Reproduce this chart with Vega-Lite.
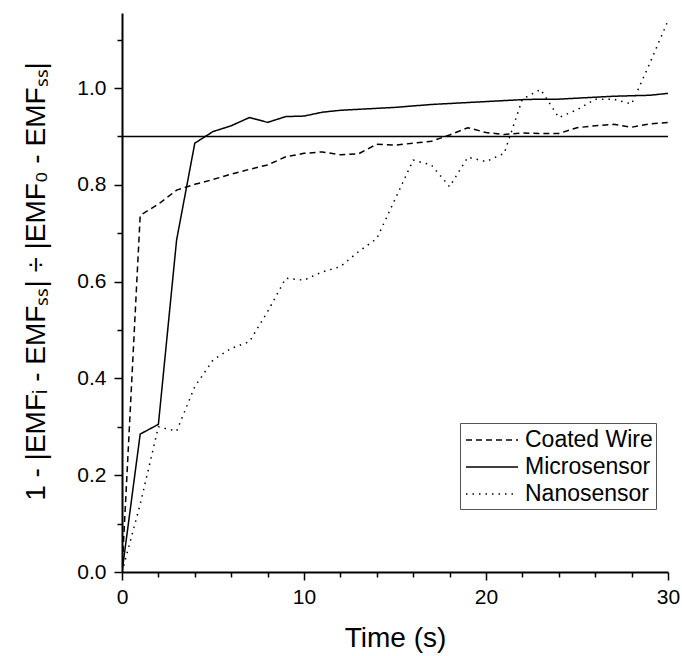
{
  "$schema": "https://vega.github.io/schema/vega-lite/v6.json",
  "width": 546,
  "height": 559,
  "autosize": {"type": "none"},
  "padding": {"left": 122, "top": 13, "right": 14, "bottom": 84},
  "config": {
    "view": {"stroke": null},
    "font": "Liberation Sans",
    "axis": {
      "domainColor": "#000", "domainWidth": 2, "tickColor": "#000", "tickWidth": 1.5,
      "labelColor": "#000", "titleColor": "#000", "labelFont": "Liberation Sans", "titleFont": "Liberation Sans",
      "labelFontSize": 21, "titleFontSize": 28, "titleFontWeight": "normal", "grid": false
    }
  },
  "datasets": {
    "series": [
      {"t": 0, "v": 0, "s": "Coated Wire"},
      {"t": 1, "v": 0.737, "s": "Coated Wire"},
      {"t": 2, "v": 0.76, "s": "Coated Wire"},
      {"t": 3, "v": 0.789, "s": "Coated Wire"},
      {"t": 4, "v": 0.801, "s": "Coated Wire"},
      {"t": 5, "v": 0.811, "s": "Coated Wire"},
      {"t": 6, "v": 0.822, "s": "Coated Wire"},
      {"t": 7, "v": 0.832, "s": "Coated Wire"},
      {"t": 8, "v": 0.841, "s": "Coated Wire"},
      {"t": 9, "v": 0.858, "s": "Coated Wire"},
      {"t": 10, "v": 0.865, "s": "Coated Wire"},
      {"t": 11, "v": 0.868, "s": "Coated Wire"},
      {"t": 12, "v": 0.862, "s": "Coated Wire"},
      {"t": 13, "v": 0.864, "s": "Coated Wire"},
      {"t": 14, "v": 0.884, "s": "Coated Wire"},
      {"t": 15, "v": 0.882, "s": "Coated Wire"},
      {"t": 16, "v": 0.886, "s": "Coated Wire"},
      {"t": 17, "v": 0.89, "s": "Coated Wire"},
      {"t": 18, "v": 0.903, "s": "Coated Wire"},
      {"t": 19, "v": 0.918, "s": "Coated Wire"},
      {"t": 20, "v": 0.908, "s": "Coated Wire"},
      {"t": 21, "v": 0.904, "s": "Coated Wire"},
      {"t": 22, "v": 0.907, "s": "Coated Wire"},
      {"t": 23, "v": 0.906, "s": "Coated Wire"},
      {"t": 24, "v": 0.906, "s": "Coated Wire"},
      {"t": 25, "v": 0.918, "s": "Coated Wire"},
      {"t": 26, "v": 0.922, "s": "Coated Wire"},
      {"t": 27, "v": 0.925, "s": "Coated Wire"},
      {"t": 28, "v": 0.919, "s": "Coated Wire"},
      {"t": 29, "v": 0.926, "s": "Coated Wire"},
      {"t": 30, "v": 0.929, "s": "Coated Wire"},
      {"t": 0, "v": 0, "s": "Microsensor"},
      {"t": 1, "v": 0.285, "s": "Microsensor"},
      {"t": 2, "v": 0.305, "s": "Microsensor"},
      {"t": 3, "v": 0.686, "s": "Microsensor"},
      {"t": 4, "v": 0.886, "s": "Microsensor"},
      {"t": 5, "v": 0.91, "s": "Microsensor"},
      {"t": 6, "v": 0.922, "s": "Microsensor"},
      {"t": 7, "v": 0.939, "s": "Microsensor"},
      {"t": 8, "v": 0.929, "s": "Microsensor"},
      {"t": 9, "v": 0.941, "s": "Microsensor"},
      {"t": 10, "v": 0.942, "s": "Microsensor"},
      {"t": 11, "v": 0.95, "s": "Microsensor"},
      {"t": 12, "v": 0.954, "s": "Microsensor"},
      {"t": 13, "v": 0.956, "s": "Microsensor"},
      {"t": 14, "v": 0.958, "s": "Microsensor"},
      {"t": 15, "v": 0.96, "s": "Microsensor"},
      {"t": 16, "v": 0.963, "s": "Microsensor"},
      {"t": 17, "v": 0.966, "s": "Microsensor"},
      {"t": 18, "v": 0.968, "s": "Microsensor"},
      {"t": 19, "v": 0.97, "s": "Microsensor"},
      {"t": 20, "v": 0.972, "s": "Microsensor"},
      {"t": 21, "v": 0.974, "s": "Microsensor"},
      {"t": 22, "v": 0.976, "s": "Microsensor"},
      {"t": 23, "v": 0.977, "s": "Microsensor"},
      {"t": 24, "v": 0.977, "s": "Microsensor"},
      {"t": 25, "v": 0.979, "s": "Microsensor"},
      {"t": 26, "v": 0.981, "s": "Microsensor"},
      {"t": 27, "v": 0.983, "s": "Microsensor"},
      {"t": 28, "v": 0.984, "s": "Microsensor"},
      {"t": 29, "v": 0.985, "s": "Microsensor"},
      {"t": 30, "v": 0.989, "s": "Microsensor"},
      {"t": 0, "v": 0, "s": "Nanosensor"},
      {"t": 1, "v": 0.14, "s": "Nanosensor"},
      {"t": 2, "v": 0.3, "s": "Nanosensor"},
      {"t": 3, "v": 0.291, "s": "Nanosensor"},
      {"t": 4, "v": 0.383, "s": "Nanosensor"},
      {"t": 5, "v": 0.438, "s": "Nanosensor"},
      {"t": 6, "v": 0.462, "s": "Nanosensor"},
      {"t": 7, "v": 0.476, "s": "Nanosensor"},
      {"t": 8, "v": 0.538, "s": "Nanosensor"},
      {"t": 9, "v": 0.607, "s": "Nanosensor"},
      {"t": 10, "v": 0.603, "s": "Nanosensor"},
      {"t": 11, "v": 0.62, "s": "Nanosensor"},
      {"t": 12, "v": 0.631, "s": "Nanosensor"},
      {"t": 13, "v": 0.662, "s": "Nanosensor"},
      {"t": 14, "v": 0.689, "s": "Nanosensor"},
      {"t": 15, "v": 0.77, "s": "Nanosensor"},
      {"t": 16, "v": 0.851, "s": "Nanosensor"},
      {"t": 17, "v": 0.841, "s": "Nanosensor"},
      {"t": 18, "v": 0.796, "s": "Nanosensor"},
      {"t": 19, "v": 0.857, "s": "Nanosensor"},
      {"t": 20, "v": 0.848, "s": "Nanosensor"},
      {"t": 21, "v": 0.865, "s": "Nanosensor"},
      {"t": 22, "v": 0.977, "s": "Nanosensor"},
      {"t": 23, "v": 0.997, "s": "Nanosensor"},
      {"t": 24, "v": 0.939, "s": "Nanosensor"},
      {"t": 25, "v": 0.955, "s": "Nanosensor"},
      {"t": 26, "v": 0.977, "s": "Nanosensor"},
      {"t": 27, "v": 0.977, "s": "Nanosensor"},
      {"t": 28, "v": 0.967, "s": "Nanosensor"},
      {"t": 29, "v": 1.051, "s": "Nanosensor"},
      {"t": 30, "v": 1.139, "s": "Nanosensor"}
    ],
    "threshold": [{"level": 0.9}]
  },
  "layer": [
    {
      "data": {"name": "series"},
      "mark": {"type": "line", "color": "#000", "strokeWidth": 1.5, "clip": true},
      "encoding": {
        "x": {
          "field": "t", "type": "quantitative",
          "scale": {"domain": [0, 30], "nice": false, "zero": false},
          "axis": {
            "title": "Time (s)", "titlePadding": 17,
            "values": [0, 2, 4, 6, 8, 10, 12, 14, 16, 18, 20, 22, 24, 26, 28, 30],
            "labelExpr": "datum.value % 10 === 0 ? datum.label : ''",
            "tickSize": {"condition": {"test": "datum.value % 10 === 0", "value": 8}, "value": 5},
            "labelPadding": 6, "labelFlush": false
          }
        },
        "y": {
          "field": "v", "type": "quantitative",
          "scale": {"domain": [0, 1.155], "nice": false, "zero": false},
          "axis": {
            "title": "1 - |EMFᵢ - EMFₛₛ| ÷ |EMF₀ - EMFₛₛ|", "titlePadding": 26, "titleY": 268,
            "values": [0, 0.1, 0.2, 0.3, 0.4, 0.5, 0.6, 0.7, 0.8, 0.9, 1.0, 1.1],
            "format": ".1f",
            "labelExpr": "round(datum.value * 10) % 2 === 0 ? datum.label : ''",
            "tickSize": {"condition": {"test": "round(datum.value * 10) % 2 === 0", "value": 8}, "value": 5},
            "labelPadding": 8, "labelFlush": false
          }
        },
        "strokeDash": {
          "field": "s", "type": "nominal",
          "scale": {"domain": ["Coated Wire", "Microsensor", "Nanosensor"], "range": [[6, 4], [1, 0], [1.5, 5]]},
          "legend": {
            "title": null, "orient": "none", "legendX": 338, "legendY": 410,
            "symbolType": "M-2,0H2", "symbolStrokeColor": "#000", "symbolStrokeWidth": 1.5,
            "symbolFillColor": "transparent",
            "symbolSize": 676, "symbolOffset": 15, "rowPadding": 1, "labelFontSize": 23, "labelColor": "#000",
            "labelFont": "Liberation Sans", "labelOffset": 19,
            "strokeColor": "#555", "padding": 3, "fillColor": "#fff"
          }
        }
      }
    },
    {
      "data": {"name": "threshold"},
      "mark": {"type": "rule", "color": "#000", "strokeWidth": 1.5},
      "encoding": {"y": {"field": "level", "type": "quantitative"}}
    }
  ]
}
